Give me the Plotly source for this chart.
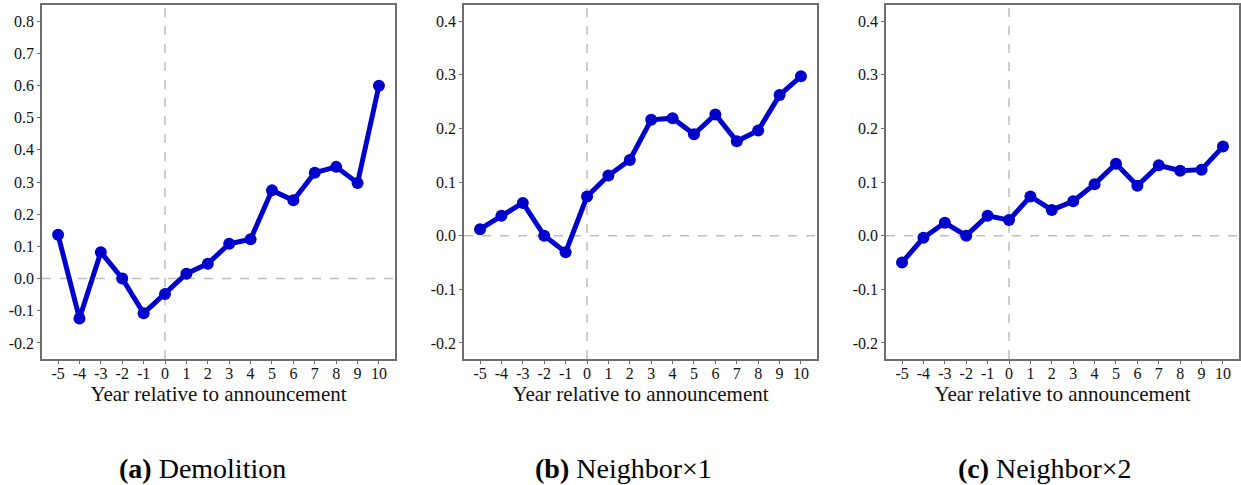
import plotly.graph_objects as go

years = list(range(-5, 11))
demolition = [0.136, -0.124, 0.082, 0.0, -0.108, -0.048, 0.015, 0.046, 0.108, 0.122,
              0.274, 0.243, 0.329, 0.347, 0.297, 0.599]
neighbor1 = [0.012, 0.037, 0.061, 0.0, -0.031, 0.073, 0.112, 0.141, 0.216, 0.219,
             0.189, 0.226, 0.176, 0.196, 0.262, 0.297]
neighbor2 = [-0.050, -0.004, 0.024, 0.0, 0.037, 0.029, 0.073, 0.048, 0.064, 0.096,
             0.134, 0.093, 0.131, 0.121, 0.123, 0.166]

panels = [
    ("<b>(a)</b> Demolition", demolition, [-0.25, 0.85], [-0.2, -0.1, 0.0, 0.1, 0.2, 0.3, 0.4, 0.5, 0.6, 0.7, 0.8]),
    ("<b>(b)</b> Neighbor×1", neighbor1, [-0.23, 0.43], [-0.2, -0.1, 0.0, 0.1, 0.2, 0.3, 0.4]),
    ("<b>(c)</b> Neighbor×2", neighbor2, [-0.23, 0.43], [-0.2, -0.1, 0.0, 0.1, 0.2, 0.3, 0.4]),
]

W, H = 1241, 485
xdoms = [(42, 395), (464, 817), (886, 1239)]
ydom = [1 - 359 / H, 1 - 5 / H]
caption_x = [203, 623, 1045]

FONT = "Liberation Serif"
LINE = "#0000CD"
FRAME = "#6e6e6e"
REF = "#BEBEBE"
TXT = "#111111"

fig = go.Figure()
layout = dict(
    width=W, height=H, margin=dict(l=0, r=0, t=0, b=0),
    paper_bgcolor="white", plot_bgcolor="white", showlegend=False,
    font=dict(family=FONT, color=TXT, size=16),
)
shapes = []
annotations = []
for i, (title, vals, yr, yt) in enumerate(panels):
    n = "" if i == 0 else str(i + 1)
    xa, ya = "x" + n, "y" + n
    fig.add_trace(go.Scatter(
        x=years, y=vals, mode="lines+markers", xaxis=xa, yaxis=ya,
        line=dict(color=LINE, width=5),
        marker=dict(color=LINE, size=12),
        cliponaxis=False,
    ))
    layout["xaxis" + n] = dict(
        domain=[xdoms[i][0] / W, xdoms[i][1] / W], anchor=ya,
        range=[-5.75, 10.75], tickmode="array", tickvals=years,
        ticktext=[str(v) for v in years],
        showgrid=False, zeroline=False, showline=True, mirror=True,
        linecolor=FRAME, linewidth=1.5, ticks="outside", ticklen=3,
        ticklabelstandoff=-4,
        tickcolor=FRAME, tickfont=dict(size=16, family=FONT, color=TXT),
        title=dict(text="Year relative to announcement",
                   font=dict(size=21, family=FONT, color=TXT), standoff=0),
    )
    layout["yaxis" + n] = dict(
        domain=ydom, anchor=xa, range=yr, tickmode="array", tickvals=yt,
        ticktext=[f"{v:.1f}" for v in yt],
        showgrid=False, zeroline=False, showline=True, mirror=True,
        linecolor=FRAME, linewidth=1.5, ticks="outside", ticklen=3,
        tickcolor=FRAME, tickfont=dict(size=16, family=FONT, color=TXT),
    )
    shapes.append(dict(type="line", xref=xa + " domain", yref=ya, x0=0, x1=1, y0=0, y1=0,
                       line=dict(color=REF, width=1.5, dash="dash"), layer="below"))
    shapes.append(dict(type="line", xref=xa, yref=ya + " domain", x0=0, x1=0, y0=0, y1=1,
                       line=dict(color=REF, width=1.5, dash="dash"), layer="below"))
    annotations.append(dict(text=title, xref="paper", yref="paper",
                            x=caption_x[i] / W, y=1 - 468 / H, showarrow=False,
                            xanchor="center", yanchor="middle",
                            font=dict(size=28, family=FONT, color="black")))

layout["shapes"] = shapes
layout["annotations"] = annotations
fig.update_layout(**layout)
fig.write_html(
    "out.html",
    config={"displayModeBar": False},
    post_script="document.body.style.margin='0';document.body.style.padding='0';",
)
